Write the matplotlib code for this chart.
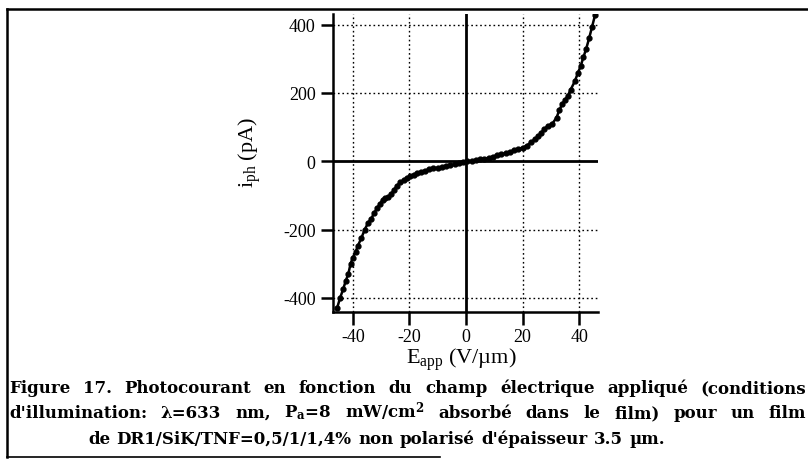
import matplotlib
matplotlib.use("Agg")
import matplotlib.pyplot as plt
from matplotlib.lines import Line2D

# ---- data ----
E_app = [-45.5, -44.5, -43.4, -42.5, -41.6, -40.8, -40.0, -39.0, -38.2, -37.0,
         -35.8, -34.6, -33.5, -32.5, -31.5, -30.4, -29.5, -28.5, -27.5, -26.5,
         -25.5, -24.5, -23.3, -22.0, -21.0, -19.8, -18.5, -17.3, -16.0, -14.5,
         -13.0, -11.5, -10.0, -8.5, -7.0, -5.5, -4.0, -2.5, -1.0, 0.5,
         2.0, 3.5, 5.0, 6.5, 8.0, 9.5, 11.0, 12.5, 14.0, 15.5,
         17.0, 18.5, 20.0, 21.5, 23.0, 24.5, 25.5, 26.5, 27.5, 29.0,
         30.5, 32.0, 33.0, 34.0, 35.0, 36.0, 37.0, 38.5, 39.5, 40.5,
         41.5, 42.5, 43.5, 44.5, 45.6]
i_ph = [-428, -400, -374, -350, -330, -300, -282, -265, -247, -225,
        -200, -180, -168, -152, -138, -124, -113, -108, -104, -96,
        -84, -72, -62, -55, -49, -44, -39, -35, -31, -27,
        -24, -21, -19, -17, -14, -12, -9, -5, -2, 0,
        1, 4, 6, 8, 10, 14, 17, 20, 24, 28,
        32, 36, 40, 46, 56, 66, 74, 82, 94, 104,
        110, 128, 150, 168, 180, 192, 210, 235, 258, 278,
        305, 330, 360, 392, 428]
x_ticks = [-40, -20, 0, 20, 40]
y_ticks = [-400, -200, 0, 200, 400]
x_grid = [-40, -20, 20, 40]
y_grid = [-400, -200, 200, 400]

caption1 = "Figure 17. Photocourant en fonction du champ électrique appliqué (conditions"
caption2 = ["d'illumination:", "λ=633", "nm,", r"P$_{\mathbf{a}}$=8",
            r"mW/cm$^{\mathbf{2}}$", "absorbé", "dans", "le", "film)", "pour", "un", "film"]
caption3 = "de DR1/SiK/TNF=0,5/1/1,4% non polarisé d'épaisseur 3.5 µm."

plt.rcParams['axes.unicode_minus'] = False
plt.rcParams['mathtext.fontset'] = 'custom'
plt.rcParams['mathtext.rm'] = 'Liberation Serif'
plt.rcParams['mathtext.it'] = 'Liberation Serif:italic'
plt.rcParams['mathtext.bf'] = 'DejaVu Serif:bold'

W, H = 808, 464
fig = plt.figure(figsize=(W / 100, H / 100), dpi=100)

xl = (-47, 46.5)
yl = (-441, 431)
left, right, bottom, top = 333, 597.6, 313, 15
ax = fig.add_axes([left / W, (H - bottom) / H, (right - left) / W, (bottom - top) / H])
ax.set_xlim(*xl)
ax.set_ylim(*yl)

for g in x_grid:
    ax.axvline(g, color='black', lw=1.0, ls=(0, (1.2, 2)), zorder=1)
for g in y_grid:
    ax.axhline(g, color='black', lw=1.0, ls=(0, (1.2, 2)), zorder=1)
ax.axvline(0, color='black', lw=2.0, zorder=2)
ax.axhline(0, color='black', lw=2.0, zorder=2)

ax.plot(E_app, i_ph, color='black', lw=1.8, marker='o', ms=3.5, zorder=3)

for s in ['top', 'right']:
    ax.spines[s].set_visible(False)
for s in ['left', 'bottom']:
    ax.spines[s].set_linewidth(1.8)

ax.set_xticks(x_ticks)
ax.set_yticks(y_ticks)
ax.tick_params(axis='y', direction='out', length=8.5, width=1.8, pad=4,
               labelsize=13)
ax.tick_params(axis='x', direction='out', length=9.5, width=1.8, pad=2,
               labelsize=13)
for lab in ax.get_xticklabels() + ax.get_yticklabels():
    lab.set_fontfamily('Liberation Serif')

fig.text(250 / W, 1 - 152 / H, r"i$_{\rm ph}$ (pA)", rotation=90,
         ha='center', va='center', fontsize=16, family='Liberation Serif')
fig.text(461 / W, 1 - 364 / H, r"E$_{\rm app}$ (V/µm)",
         ha='center', va='baseline', fontsize=16, family='Liberation Serif')

# frame lines
fig.add_artist(Line2D([7 / W, 1.0], [1 - 10 / H, 1 - 10 / H], color='black', lw=1.8))
fig.add_artist(Line2D([7 / W, 7 / W], [1 - 10 / H, 1 - 458 / H], color='black', lw=1.8))
fig.add_artist(Line2D([7 / W, 440 / W], [1 - 458 / H, 1 - 458 / H], color='black', lw=1.2))

fig.canvas.draw()
renderer = fig.canvas.get_renderer()
ckw = dict(fontsize=12, family='DejaVu Serif', fontweight='bold', va='baseline')


def justify(words, ybase, x0, x1):
    texts = [fig.text(0, 1 - ybase / H, w, **ckw) for w in words]
    widths = [t.get_window_extent(renderer).width for t in texts]
    gap = (x1 - x0 - sum(widths)) / (len(words) - 1)
    x = x0
    for t, w in zip(texts, widths):
        t.set_x(x / W)
        x += w + gap


justify(caption1.split(" "), 393, 9, 806)
justify(caption2, 418, 9, 806)
justify(caption3.split(" "), 444, 88, 665)

fig.savefig("out.png", dpi=100)
